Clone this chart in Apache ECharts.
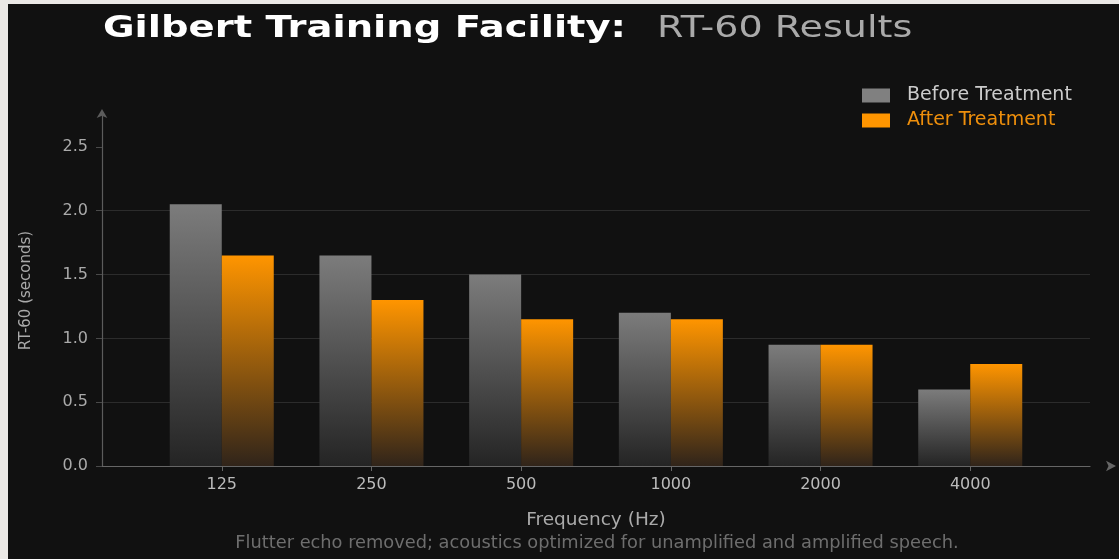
<!DOCTYPE html>
<html>
<head>
<meta charset="utf-8">
<script src="https://cdn.jsdelivr.net/npm/echarts@6/dist/echarts.min.js"></script>
<style>
  html, body { margin: 0; padding: 0; background: #ebe9e6; width: 1119px; height: 559px; overflow: hidden; }
  #chart { position: absolute; left: 8px; top: 4px; width: 1111px; height: 555px; }
</style>
</head>
<body>
<div id="chart"></div>
<script>
// RT-60 reverberation times per octave band, before and after acoustic treatment
const frequencies = ['125', '250', '500', '1000', '2000', '4000'];
const beforeTreatment = [2.05, 1.65, 1.50, 1.20, 0.95, 0.60];
const afterTreatment = [1.65, 1.30, 1.15, 1.15, 0.95, 0.80];
const yTicks = [0, 0.5, 1.0, 1.5, 2.0, 2.5];
const bandPositions = frequencies.map((f, i) => i);

const FONT = '"DejaVu Sans", Verdana, sans-serif';

function barGradient(top, bottom) {
  return new echarts.graphic.LinearGradient(0, 0, 0, 1, [
    { offset: 0, color: top },
    { offset: 1, color: bottom }
  ]);
}

const chart = echarts.init(document.getElementById('chart'), null, { renderer: 'canvas' });

chart.setOption({
  backgroundColor: '#111111',
  animation: false,
  textStyle: { fontFamily: FONT },
  legend: {
    orient: 'vertical',
    left: 854,
    top: 82,
    padding: 0,
    itemWidth: 28,
    itemHeight: 14,
    itemGap: 6,
    icon: 'rect',
    textStyle: { fontFamily: FONT, fontSize: 19, lineHeight: 18, padding: [0, 0, 0, 12] },
    data: [
      { name: 'Before Treatment', itemStyle: { color: '#808080' }, textStyle: { color: '#cccccc' } },
      { name: 'After Treatment', itemStyle: { color: '#ff9500' }, textStyle: { color: '#ee8f0c' } }
    ]
  },
  grid: { left: 94, right: 29, top: 111, bottom: 93, containLabel: false },
  xAxis: {
    type: 'value',
    min: -0.8,
    max: 5.8,
    name: 'Frequency (Hz)',
    nameLocation: 'middle',
    nameGap: 45,
    nameTextStyle: { fontFamily: FONT, fontSize: 18.5, color: '#aaaaaa' },
    axisLine: {
      show: true,
      onZero: false,
      symbol: ['none', 'arrow'],
      symbolSize: [8, 10],
      symbolOffset: [0, 26],
      lineStyle: { color: '#666666', width: 1.2 }
    },
    axisTick: { show: true, length: 5, customValues: bandPositions, lineStyle: { color: '#666666' } },
    axisLabel: {
      customValues: bandPositions,
      formatter: v => frequencies[v],
      fontFamily: FONT, fontSize: 16, color: '#bbbbbb', margin: 11
    },
    splitLine: { show: false }
  },
  yAxis: {
    type: 'value',
    min: 0,
    max: 2.75,
    name: 'RT-60 (seconds)',
    nameLocation: 'middle',
    nameGap: 68,
    nameTextStyle: { fontFamily: FONT, fontSize: 15, color: '#aaaaaa' },
    axisLine: {
      show: true,
      onZero: false,
      symbol: ['none', 'arrow'],
      symbolSize: [8, 9],
      symbolOffset: [0, 6],
      lineStyle: { color: '#5c5c5c', width: 1.2 }
    },
    axisTick: { show: true, length: 6, customValues: yTicks, lineStyle: { color: '#4a4a4a' } },
    axisLabel: {
      customValues: yTicks,
      formatter: v => v.toFixed(1),
      fontFamily: FONT, fontSize: 16, color: '#aaaaaa', margin: 14
    },
    splitLine: { show: true, showMaxLine: false, lineStyle: { color: '#2c2c2c', width: 1 } }
  },
  series: [
    {
      name: 'Before Treatment',
      type: 'bar',
      barWidth: 52,
      barGap: '0%',
      data: beforeTreatment.map((v, i) => [i, v]),
      itemStyle: { color: barGradient('#7c7c7c', '#242424') }
    },
    {
      name: 'After Treatment',
      type: 'bar',
      barWidth: 52,
      barGap: '0%',
      data: afterTreatment.map((v, i) => [i, v]),
      itemStyle: { color: barGradient('#ff9500', '#30241a') }
    }
  ],
  graphic: [
    // Wide-set headline: bold facility name followed by a lighter subtitle
    {
      type: 'text',
      x: 95,
      y: 9,
      scaleX: 1.242,
      style: {
        text: 'Gilbert Training Facility:',
        fontFamily: FONT,
        fontSize: 31,
        fontWeight: 'bold',
        fill: '#ffffff',
        align: 'left',
        verticalAlign: 'top'
      }
    },
    {
      type: 'text',
      x: 649,
      y: 9,
      scaleX: 1.229,
      style: {
        text: 'RT-60 Results',
        fontFamily: FONT,
        fontSize: 31,
        fontWeight: 'normal',
        fill: '#aaaaaa',
        align: 'left',
        verticalAlign: 'top'
      }
    },
    {
      type: 'text',
      x: 589,
      y: 539,
      style: {
        text: 'Flutter echo removed; acoustics optimized for unamplified and amplified speech.',
        fontFamily: FONT,
        fontSize: 17.8,
        fill: '#6e6e6e',
        align: 'center',
        verticalAlign: 'middle'
      }
    }
  ]
});
</script>
</body>
</html>
